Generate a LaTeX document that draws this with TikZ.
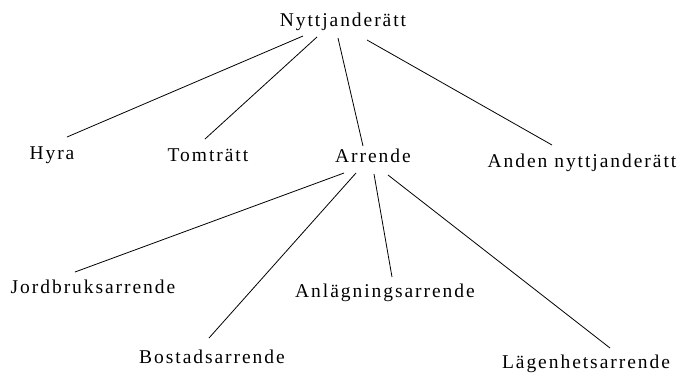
\documentclass[tikz,border=0pt]{standalone}
\usepackage{fontspec}
\setmainfont{Liberation Serif}[LetterSpace=10]
\begin{document}
\begin{tikzpicture}[x=1pt,y=-1pt,
  lbl/.style={inner sep=0pt,anchor=base,font=\fontsize{19.5}{23}\selectfont},
  edge/.style={line width=0.8pt,black}]
\useasboundingbox (0,0) rectangle (682,376);
\node[lbl] (top) at (343,26.7) {Nyttjanderätt};
\node[lbl] (hyra) at (52,159) {Hyra};
\node[lbl] (tomt) at (208,161) {Tomträtt};
\node[lbl] (arr) at (373,162) {Arrende};
\node[lbl] (anden) at (582,167) {Anden nyttjanderätt};
\node[lbl] (jord) at (93,293) {Jordbruksarrende};
\node[lbl] (anl) at (385,297) {Anlägningsarrende};
\node[lbl] (bost) at (212,363) {Bostadsarrende};
\node[lbl] (lag) at (586,368) {Lägenhetsarrende};
\draw[edge] ([shift={(-40pt,-9.3pt)}]top.base) -- ([shift={(15pt,22pt)}]hyra.base);
\draw[edge] ([shift={(-26pt,-10.3pt)}]top.base) -- ([shift={(-3pt,22pt)}]tomt.base);
\draw[edge] ([shift={(-5pt,-11.3pt)}]top.base) -- ([shift={(-10pt,16pt)}]arr.base);
\draw[edge] ([shift={(24pt,-13.3pt)}]top.base) -- ([shift={(-30pt,22pt)}]anden.base);
\draw[edge] ([shift={(-29pt,-11pt)}]arr.base) -- ([shift={(-18pt,21pt)}]jord.base);
\draw[edge] ([shift={(-17pt,-11pt)}]arr.base) -- ([shift={(-3pt,25pt)}]bost.base);
\draw[edge] ([shift={(1pt,-12pt)}]arr.base) -- ([shift={(7pt,20pt)}]anl.base);
\draw[edge] ([shift={(15pt,-13pt)}]arr.base) -- ([shift={(24pt,20pt)}]lag.base);
\end{tikzpicture}
\end{document}
